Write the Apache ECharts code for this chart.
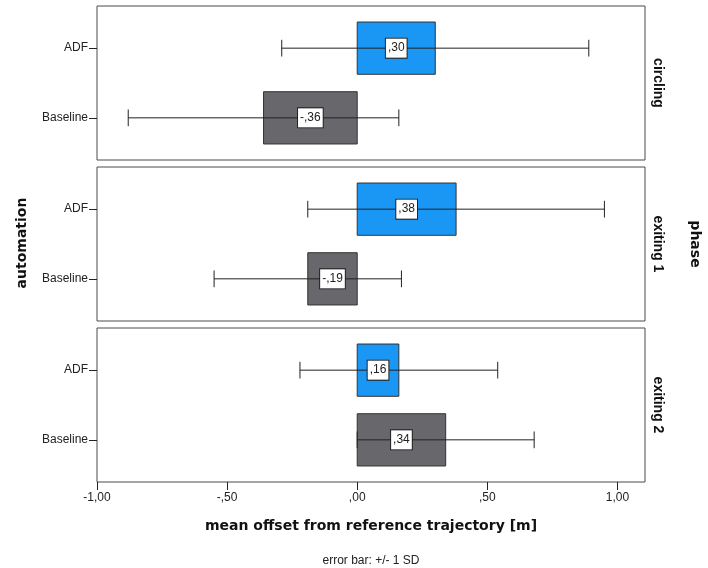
<!DOCTYPE html>
<html>
<head>
<meta charset="utf-8">
<script src="https://cdn.jsdelivr.net/npm/echarts@6/dist/echarts.min.js"></script>
<style>
  html, body { margin: 0; padding: 0; background: #fff; }
  #chart { width: 708px; height: 568px; }
</style>
</head>
<body>
<div id="chart"></div>
<script>
// data
const phases = ['circling', 'exiting 1', 'exiting 2']
const groups = ['ADF', 'Baseline']
const meanADF = [0.30, 0.38, 0.16]
const sdADF = [0.59, 0.57, 0.38]
const meanBaseline = [-0.36, -0.19, 0.34]
const sdBaseline = [0.52, 0.36, 0.34]
const xTicks = [-1, -0.5, 0, 0.5, 1]

const groupColor = { ADF: '#1a96f5', Baseline: '#68686c' }
const panelTops = [6, 167, 328]
const panelHeight = 154

// SPSS style numbers: ,30  -,36  1,00
const fmt = (v) => {
  let s = Math.abs(v).toFixed(2).replace('.', ',')
  if (s.startsWith('0,')) s = s.slice(1)
  return (v < 0 ? '-' : '') + s
}

const chart = echarts.init(document.getElementById('chart'))

const grid = [], xAxis = [], yAxis = [], series = [], graphic = []

phases.forEach((phase, i) => {
  const last = i === phases.length - 1
  grid.push({
    left: 97, width: 548, top: panelTops[i], height: panelHeight,
    show: true, borderColor: '#4a4a4a', borderWidth: 1, backgroundColor: '#fff'
  })
  xAxis.push({
    gridIndex: i, type: 'value', min: -1, max: 1.106,
    axisLine: { show: false, onZero: false },
    splitLine: { show: false },
    axisTick: { show: last, length: 8, customValues: xTicks, lineStyle: { color: '#222' } },
    axisLabel: {
      show: last, customValues: xTicks, formatter: fmt, margin: 10,
      fontFamily: 'Liberation Sans, Arial', fontSize: 12, color: '#222'
    },
    name: last ? 'mean offset from reference trajectory [m]' : '',
    nameLocation: 'middle', nameGap: 37,
    nameTextStyle: { fontFamily: 'DejaVu Sans', fontWeight: 'bold', fontSize: 14, color: '#111' }
  })
  yAxis.push({
    gridIndex: i, type: 'value', min: -0.605, max: 1.605,
    axisLine: { show: false, onZero: false },
    splitLine: { show: false },
    axisTick: { show: true, length: 8, customValues: [0, 1], lineStyle: { color: '#222' } },
    axisLabel: {
      customValues: [0, 1], margin: 9,
      formatter: (v) => (v === 1 ? groups[0] : groups[1]),
      fontFamily: 'Liberation Sans, Arial', fontSize: 12, color: '#222'
    }
  })

  const rows = [
    [1, meanADF[i], sdADF[i], 'ADF'],
    [0, meanBaseline[i], sdBaseline[i], 'Baseline']
  ]

  series.push({
    type: 'custom',
    xAxisIndex: i, yAxisIndex: i,
    data: rows,
    clip: false,
    renderItem: (params, api) => {
      const pos = api.value(0), m = api.value(1), sd = api.value(2)
      const grp = rows[params.dataIndex][3]
      const unit = api.size([0, 1])[1]
      const h = unit * 0.75
      const cap = unit * 0.12
      const p0 = api.coord([0, pos])
      const pm = api.coord([m, pos])
      const lo = api.coord([m - sd, pos])
      const hi = api.coord([m + sd, pos])
      const mid = api.coord([m / 2, pos])
      const cy = p0[1]
      return {
        type: 'group',
        children: [
          {
            type: 'rect',
            shape: { x: Math.min(p0[0], pm[0]), y: cy - h / 2, width: Math.abs(pm[0] - p0[0]), height: h },
            style: { fill: groupColor[grp], stroke: '#333', lineWidth: 1 }
          },
          {
            type: 'line',
            shape: { x1: lo[0], y1: cy, x2: hi[0], y2: cy },
            style: { stroke: '#222', lineWidth: 1 }
          },
          {
            type: 'line',
            shape: { x1: lo[0], y1: cy - cap, x2: lo[0], y2: cy + cap },
            style: { stroke: '#222', lineWidth: 1 }
          },
          {
            type: 'line',
            shape: { x1: hi[0], y1: cy - cap, x2: hi[0], y2: cy + cap },
            style: { stroke: '#222', lineWidth: 1 }
          },
          {
            type: 'text',
            x: mid[0], y: cy,
            style: {
              text: fmt(m), align: 'center', verticalAlign: 'middle',
              font: '12px "Liberation Sans", Arial', fill: '#222',
              backgroundColor: '#fff', borderColor: '#222', borderWidth: 1,
              padding: [4, 2, 3, 2]
            }
          }
        ]
      }
    }
  })

  graphic.push({
    type: 'text',
    x: 658, y: panelTops[i] + panelHeight / 2,
    rotation: -Math.PI / 2,
    style: {
      text: phase, align: 'center', verticalAlign: 'middle',
      font: 'bold 14px "Liberation Sans", Arial', fill: '#111'
    }
  })
})

graphic.push(
  {
    type: 'text', x: 22, y: 243, rotation: Math.PI / 2,
    style: {
      text: 'automation', align: 'center', verticalAlign: 'middle',
      font: 'bold 14px "DejaVu Sans"', fill: '#111'
    }
  },
  {
    type: 'text', x: 695, y: 244, rotation: -Math.PI / 2,
    style: {
      text: 'phase', align: 'center', verticalAlign: 'middle',
      font: 'bold 14px "DejaVu Sans"', fill: '#111'
    }
  },
  {
    type: 'text', x: 371, y: 561,
    style: {
      text: 'error bar: +/- 1 SD', align: 'center', verticalAlign: 'middle',
      font: '12px "Liberation Sans", Arial', fill: '#222'
    }
  }
)

chart.setOption({
  animation: false,
  backgroundColor: '#fff',
  grid, xAxis, yAxis, series, graphic
})
</script>
</body>
</html>
